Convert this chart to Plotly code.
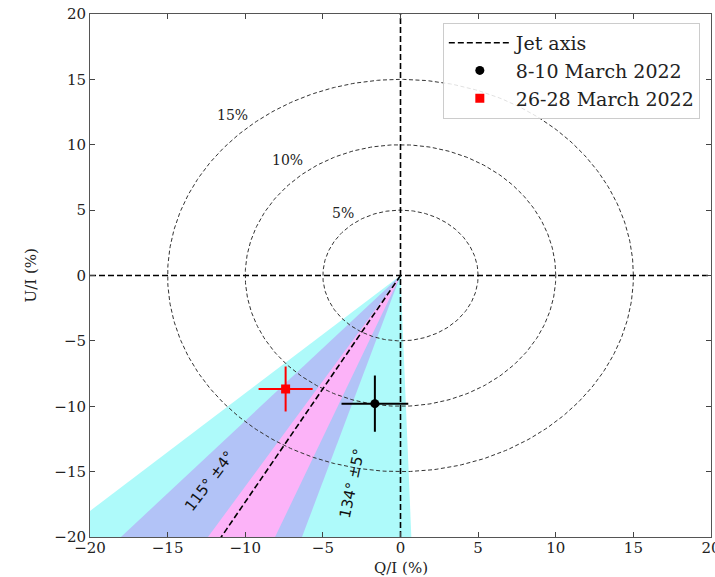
import numpy as np
import plotly.graph_objects as go

# ---- data ----
# EVPA ranges (deg) of the shaded wedges, drawn in the Q-U plane at angle 2*EVPA
wedge_outer = [111.0, 136.0]     # cyan
wedge_mid = [114.0, 126.2]       # lavender
wedge_inner = [119.1, 124.0]     # pink
wedge_colors = ["#aefafa", "#b2c3f7", "#fcb3f8"]
jet_evpa = 120.0

circle_radii = [5, 10, 15]
circle_labels = ["5%", "10%", "15%"]
circle_label_q = [-3.7, -7.3, -10.8]
circle_label_u = [4.8, 8.8, 12.3]

epoch_names = ["8-10 March 2022", "26-28 March 2022"]
epoch_q = [-1.65, -7.40]
epoch_u = [-9.8, -8.68]
epoch_q_err = [2.15, 1.74]
epoch_u_err = [2.15, 1.72]
epoch_colors = ["black", "red"]
epoch_symbols = ["circle", "square"]

angle_labels = ["115° ±4°", "134° ±5°"]
angle_label_q = [-12.3, -3.1]
angle_label_u = [-15.7, -15.9]
angle_label_rot = [-53, -78]

tick_vals = [-20, -15, -10, -5, 0, 5, 10, 15, 20]

SERIF = "DejaVu Serif"
R = 60.0

fig = go.Figure()

def wedge(evpa_range, color):
    a = np.radians(2 * np.linspace(evpa_range[0], evpa_range[1], 60))
    xs = np.concatenate([[0], R * np.cos(a), [0]])
    ys = np.concatenate([[0], R * np.sin(a), [0]])
    fig.add_trace(go.Scatter(x=xs, y=ys, fill="toself", fillcolor=color,
                             line=dict(width=0), mode="lines",
                             showlegend=False, hoverinfo="skip"))

for rng, col in zip([wedge_outer, wedge_mid, wedge_inner], wedge_colors):
    wedge(rng, col)

# circles
th = np.linspace(0, 2 * np.pi, 400)
for r in circle_radii:
    fig.add_trace(go.Scatter(x=r * np.cos(th), y=r * np.sin(th), mode="lines",
                             line=dict(color="#333333", width=1, dash="4px,2.5px"),
                             showlegend=False, hoverinfo="skip"))

# axes through origin
fig.add_trace(go.Scatter(x=[0, 0], y=[-20, 20], mode="lines",
                         line=dict(color="black", width=1.6, dash="6px,3px"),
                         showlegend=False, hoverinfo="skip"))
fig.add_trace(go.Scatter(x=[-20, 20], y=[0, 0], mode="lines",
                         line=dict(color="black", width=1.6, dash="6px,3px"),
                         showlegend=False, hoverinfo="skip"))

# jet axis
ja = np.radians(2 * jet_evpa)
fig.add_trace(go.Scatter(x=[0, R * np.cos(ja)], y=[0, R * np.sin(ja)], mode="lines",
                         line=dict(color="black", width=1.6, dash="6px,3px"),
                         name="Jet axis"))

for i in range(2):
    fig.add_trace(go.Scatter(
        x=[epoch_q[i]], y=[epoch_u[i]], mode="markers", name=epoch_names[i],
        marker=dict(color=epoch_colors[i], symbol=epoch_symbols[i], size=9),
        error_x=dict(type="data", array=[epoch_q_err[i]], color=epoch_colors[i],
                     thickness=2, width=0),
        error_y=dict(type="data", array=[epoch_u_err[i]], color=epoch_colors[i],
                     thickness=2, width=0)))

for t, x, y in zip(circle_labels, circle_label_q, circle_label_u):
    fig.add_annotation(x=x, y=y, text=t, showarrow=False,
                       font=dict(family=SERIF, size=14, color="#222"))

for t, x, y, rot in zip(angle_labels, angle_label_q, angle_label_u, angle_label_rot):
    fig.add_annotation(x=x, y=y, text=t, showarrow=False, textangle=rot,
                       font=dict(family="DejaVu Sans", size=15, color="#111"))

# axis titles
fig.add_annotation(xref="paper", yref="paper", x=0.5, y=0, yshift=-20, yanchor="top",
                   text="Q/I (%)", showarrow=False,
                   font=dict(family=SERIF, size=15, color="#222"))
fig.add_annotation(xref="paper", yref="paper", x=0, y=0.5, xshift=-60, xanchor="center",
                   text="U/I (%)", showarrow=False, textangle=-90,
                   font=dict(family=SERIF, size=15, color="#222"))

axis_common = dict(range=[-20, 20], tickvals=tick_vals, ticks="inside", ticklen=5,
                   tickcolor="#444", showline=True, linecolor="#555", linewidth=1,
                   mirror="allticks", showgrid=False, zeroline=False,
                   automargin=False, ticklabeloverflow="allow",
                   tickfont=dict(family=SERIF, size=15, color="#222"))

fig.update_layout(
    width=715, height=577,
    margin=dict(l=90, r=4, t=14, b=40),
    paper_bgcolor="white", plot_bgcolor="white",
    xaxis=dict(ticklabelstandoff=-3, **axis_common),
    yaxis=dict(**axis_common),
    legend=dict(x=0.982, y=0.983, xanchor="right", yanchor="top",
                bgcolor="rgba(255,255,255,0.85)", bordercolor="#cccccc", borderwidth=1,
                font=dict(family=SERIF, size=19, color="#222"), itemwidth=62,
                tracegroupgap=0),
    showlegend=True,
)

fig.write_html("out.html", config={"displayModeBar": False},
               post_script="document.body.style.margin='0';")
